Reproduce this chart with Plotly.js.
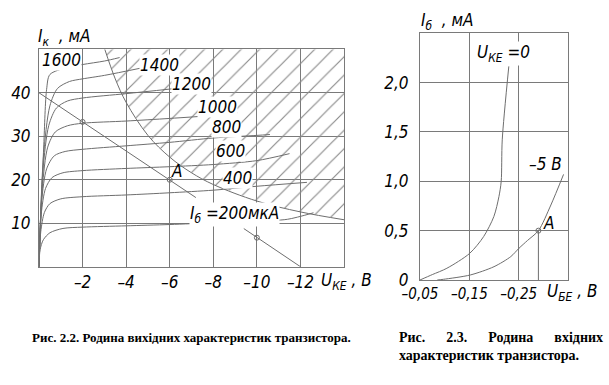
<!DOCTYPE html>
<html>
<head>
<meta charset="utf-8">
<script src="https://cdn.plot.ly/plotly-3.0.1.min.js"></script>
<style>html,body{margin:0;padding:0;background:#fff;}#chart{width:609px;height:385px;}</style>
</head>
<body>
<div id="chart"></div>
<script>
// ---------- Fig 2.2 : output characteristics (U_KE in V, I_K in mA) ----------
const xTickVals = [-2, -4, -6, -8, -10, -12];
const xTickText = ['–2', '–4', '–6', '–8', '–10', '–12'];
const yTickVals = [10, 20, 30, 40];
const yTickText = ['10', '20', '30', '40'];

const ib200U  = [0, -0.05, -0.2, -0.5, -1.1, -2, -4, -6, -8, -10, -11.4, -12.6];
const ib200I  = [0, 3.9, 6.2, 7.8, 8.8, 9.1, 9.4, 9.7, 10.1, 10.5, 10.9, 12.4];
const ib400U  = [0, -0.08, -0.25, -0.5, -1.0, -2, -4, -6, -8, -10, -12.3];
const ib400I  = [0, 8, 12.5, 14.5, 15.6, 16.1, 16.5, 17.0, 17.6, 18.5, 19.4];
const ib600U  = [0, -0.1, -0.3, -0.6, -1.1, -2, -4, -6, -8, -10, -11.5];
const ib600I  = [0, 12, 18, 20.5, 21.6, 22.1, 22.6, 23.0, 23.5, 24.4, 26.0];
const ib800U  = [0, -0.12, -0.35, -0.7, -1.2, -2, -4, -6, -8, -10, -10.6];
const ib800I  = [0, 15, 22.5, 25.5, 26.5, 27.0, 27.8, 28.6, 29.6, 30.2, 30.4];
const ib1000U = [0, -0.15, -0.4, -0.75, -1.3, -2, -4, -6, -8, -9.1];
const ib1000I = [0, 18, 27.5, 31, 32.4, 33.0, 33.5, 34.1, 34.8, 35.4];
const ib1200U = [0, -0.18, -0.45, -0.8, -1.3, -2, -4, -6.1];
const ib1200I = [0, 22, 32.5, 36.5, 38.1, 38.8, 39.8, 40.9];
const ib1400U = [0, -0.2, -0.5, -0.85, -1.4, -2, -3, -4.8];
const ib1400I = [0, 25, 37, 41, 42.6, 43.2, 44.0, 45.8];
const ib1600U = [0, -0.22, -0.35, -0.5, -1.27, -2, -3, -3.7];
const ib1600I = [0, 28, 40.8, 44.2, 45.8, 46.5, 47.3, 48.1];

// maximum-dissipation hyperbola
const hypU = [-3.02, -3.5, -4, -5, -6, -7, -8, -10, -12, -14];
const hypI = [50, 43.2, 37.8, 30.2, 25.2, 21.6, 18.9, 15.1, 12.6, 10.8];

// load line (drawn with a gap under the label) and marked points
const loadU = [0, -7.2, null, -9.4, -12];
const loadI = [40, 15.9, null, 8.77, 0];
const opU = [-2, -6, -10];
const opI = [33.3, 20, 6.67];

// ---------- Fig 2.3 : input characteristics (U_BE in V, I_B in mA) ----------
const x2TickVals = [-0.05, -0.15, -0.25];
const x2TickText = ['–0,05', '–0,15', '–0,25'];
const y2TickVals = [0, 0.5, 1.0, 1.5, 2.0];
const y2TickText = ['0', '0,5', '1,0', '1,5', '2,0'];

const uke0U = [-0.05, -0.075, -0.1045, -0.1507, -0.179, -0.1997, -0.21, -0.2146, -0.2167, -0.230];
const uke0I = [0, 0.055, 0.119, 0.27, 0.44, 0.643, 0.845, 1.0, 1.42, 2.165];
const uke5U = [-0.085, -0.0976, -0.152, -0.2, -0.234, -0.2507, -0.2678, -0.29, -0.3153, -0.341];
const uke5I = [0, 0.007, 0.051, 0.135, 0.237, 0.322, 0.40, 0.5, 0.76, 1.07];
const pointAU = [-0.29];
const pointAI = [0.5];

const GRID = '#7a7a7a';
const CURVE = '#6e6e6e';
const TXT = '#000';
const FONT = '"Liberation Sans Narrow", "DejaVu Sans Condensed", "Liberation Sans", sans-serif';
const SERIF = '"Liberation Serif", "DejaVu Serif", serif';

function curve(u, i, xa, ya) {
  return {x: u, y: i, xaxis: xa, yaxis: ya, type: 'scatter', mode: 'lines',
    line: {color: CURVE, width: 1, shape: 'spline', smoothing: 0.8}, hoverinfo: 'skip', showlegend: false};
}

const hatchX = hypU.concat([-14]);
const hatchY = hypI.concat([50]);

const traces = [
  {x: hatchX, y: hatchY, xaxis: 'x', yaxis: 'y', type: 'scatter', mode: 'none', fill: 'toself',
   fillcolor: 'rgba(0,0,0,0)',
   fillpattern: {shape: '/', fgcolor: '#8a8a8a', bgcolor: 'rgba(0,0,0,0)', size: 13, solidity: 0.09},
   hoverinfo: 'skip', showlegend: false},
  {x: hypU, y: hypI, xaxis: 'x', yaxis: 'y', type: 'scatter', mode: 'lines',
   line: {color: CURVE, width: 1, shape: 'spline'}, hoverinfo: 'skip', showlegend: false},
  curve(ib200U, ib200I, 'x', 'y'),
  curve(ib400U, ib400I, 'x', 'y'),
  curve(ib600U, ib600I, 'x', 'y'),
  curve(ib800U, ib800I, 'x', 'y'),
  curve(ib1000U, ib1000I, 'x', 'y'),
  curve(ib1200U, ib1200I, 'x', 'y'),
  curve(ib1400U, ib1400I, 'x', 'y'),
  curve(ib1600U, ib1600I, 'x', 'y'),
  {x: loadU, y: loadI, xaxis: 'x', yaxis: 'y', type: 'scatter', mode: 'lines', connectgaps: false,
   line: {color: CURVE, width: 1}, hoverinfo: 'skip', showlegend: false},
  {x: opU, y: opI, xaxis: 'x', yaxis: 'y', type: 'scatter', mode: 'markers',
   marker: {symbol: 'circle-open', size: 5, color: CURVE, line: {width: 1}}, hoverinfo: 'skip', showlegend: false},
  curve(uke0U, uke0I, 'x2', 'y2'),
  curve(uke5U, uke5I, 'x2', 'y2'),
  {x: [pointAU[0], pointAU[0]], y: [0, pointAI[0]], xaxis: 'x2', yaxis: 'y2', type: 'scatter', mode: 'lines',
   line: {color: CURVE, width: 1}, hoverinfo: 'skip', showlegend: false},
  {x: pointAU, y: pointAI, xaxis: 'x2', yaxis: 'y2', type: 'scatter', mode: 'markers',
   marker: {symbol: 'circle-open', size: 5, color: CURVE, line: {width: 1}}, hoverinfo: 'skip', showlegend: false}
];

const tickFont = {family: FONT, size: 17, color: TXT, style: 'italic'};
const axBase = {showgrid: true, gridcolor: GRID, gridwidth: 1, zeroline: false, showline: true, mirror: true,
  linecolor: GRID, linewidth: 1, ticks: '', tickmode: 'array', tickfont: tickFont, fixedrange: true};

function lab(text, x, y, xref, yref, opts) {
  return Object.assign({text: text, x: x, y: y, xref: xref, yref: yref, showarrow: false,
    xanchor: 'center', yanchor: 'middle',
    font: {family: FONT, size: 17, color: TXT, style: 'italic'}, bgcolor: '#fff', borderpad: 0}, opts || {});
}
function cap(text, x, y, size) {
  return {text: text, x: x, y: y, xref: 'paper', yref: 'paper', xanchor: 'left', yanchor: 'middle',
    showarrow: false, font: {family: SERIF, size: size, color: TXT}};
}

const annotations = [
  lab('1600', -1.03, 47.6, 'x', 'y'),
  lab('1400', -5.55, 46.5, 'x', 'y'),
  lab('1200', -7.0, 42.05, 'x', 'y'),
  lab('1000', -8.21, 36.75, 'x', 'y'),
  lab('800', -8.6, 32.1, 'x', 'y'),
  lab('600', -8.81, 26.6, 'x', 'y'),
  lab('400', -9.1, 20.4, 'x', 'y'),
  lab('I<sub>б</sub> =200мкА', -8.99, 12.1, 'x', 'y'),
  lab('A', -6.33, 22.1, 'x', 'y', {bgcolor: 'rgba(0,0,0,0)'}),
  lab('U<sub>КЕ</sub> =0', -0.2184, 2.295, 'x2', 'y2'),
  lab('–5 В', -0.304, 1.176, 'x2', 'y2'),
  lab('A', -0.310, 0.578, 'x2', 'y2', {bgcolor: 'rgba(0,0,0,0)'}),
  lab('I<sub>к</sub>  , мА', 37 / 609, 1 - 37 / 385, 'paper', 'paper', {xanchor: 'left', bgcolor: 'rgba(0,0,0,0)'}),
  lab('U<sub>КЕ</sub> , В', 320 / 609, 1 - 281 / 385, 'paper', 'paper', {xanchor: 'left', bgcolor: 'rgba(0,0,0,0)'}),
  lab('I<sub>б</sub>  , мА', 420 / 609, 1 - 21 / 385, 'paper', 'paper', {xanchor: 'left', bgcolor: 'rgba(0,0,0,0)'}),
  lab('U<sub>БЕ</sub> , В', 546 / 609, 1 - 292 / 385, 'paper', 'paper', {xanchor: 'left', bgcolor: 'rgba(0,0,0,0)'}),
  cap('<b>Рис. 2.2. Родина вихідних характеристик транзистора.</b>', 30 / 609, 1 - 337 / 385, 13),
  cap('<b>Рис.      2.3.      Родина      вхідних</b>', 397 / 609, 1 - 337 / 385, 14),
  cap('<b>характеристик транзистора.</b>', 397 / 609, 1 - 355 / 385, 14)
];

const layout = {
  width: 609, height: 385, margin: {l: 0, r: 0, t: 0, b: 0},
  paper_bgcolor: '#fff', plot_bgcolor: 'rgba(0,0,0,0)', showlegend: false,
  xaxis: Object.assign({}, axBase, {domain: [39 / 609, 344 / 609], range: [0, -14], tickvals: xTickVals, ticktext: xTickText, anchor: 'y'}),
  yaxis: Object.assign({}, axBase, {domain: [1 - 266.7 / 385, 1 - 49.3 / 385], range: [0, 50], tickvals: yTickVals, ticktext: yTickText, anchor: 'x', ticklabelstandoff: 4}),
  xaxis2: Object.assign({}, axBase, {domain: [420 / 609, 568 / 609], range: [-0.05, -0.35], tickvals: x2TickVals, ticktext: x2TickText, anchor: 'y2',
    tickfont: {family: FONT, size: 15, color: TXT, style: 'italic'}}),
  yaxis2: Object.assign({}, axBase, {domain: [1 - 280 / 385, 1 - 33.3 / 385], range: [0, 2.5], tickvals: y2TickVals, ticktext: y2TickText, anchor: 'x2', ticklabelstandoff: 7}),
  annotations: annotations
};

Plotly.newPlot('chart', traces, layout, {staticPlot: true, displayModeBar: false});
</script>
</body>
</html>
